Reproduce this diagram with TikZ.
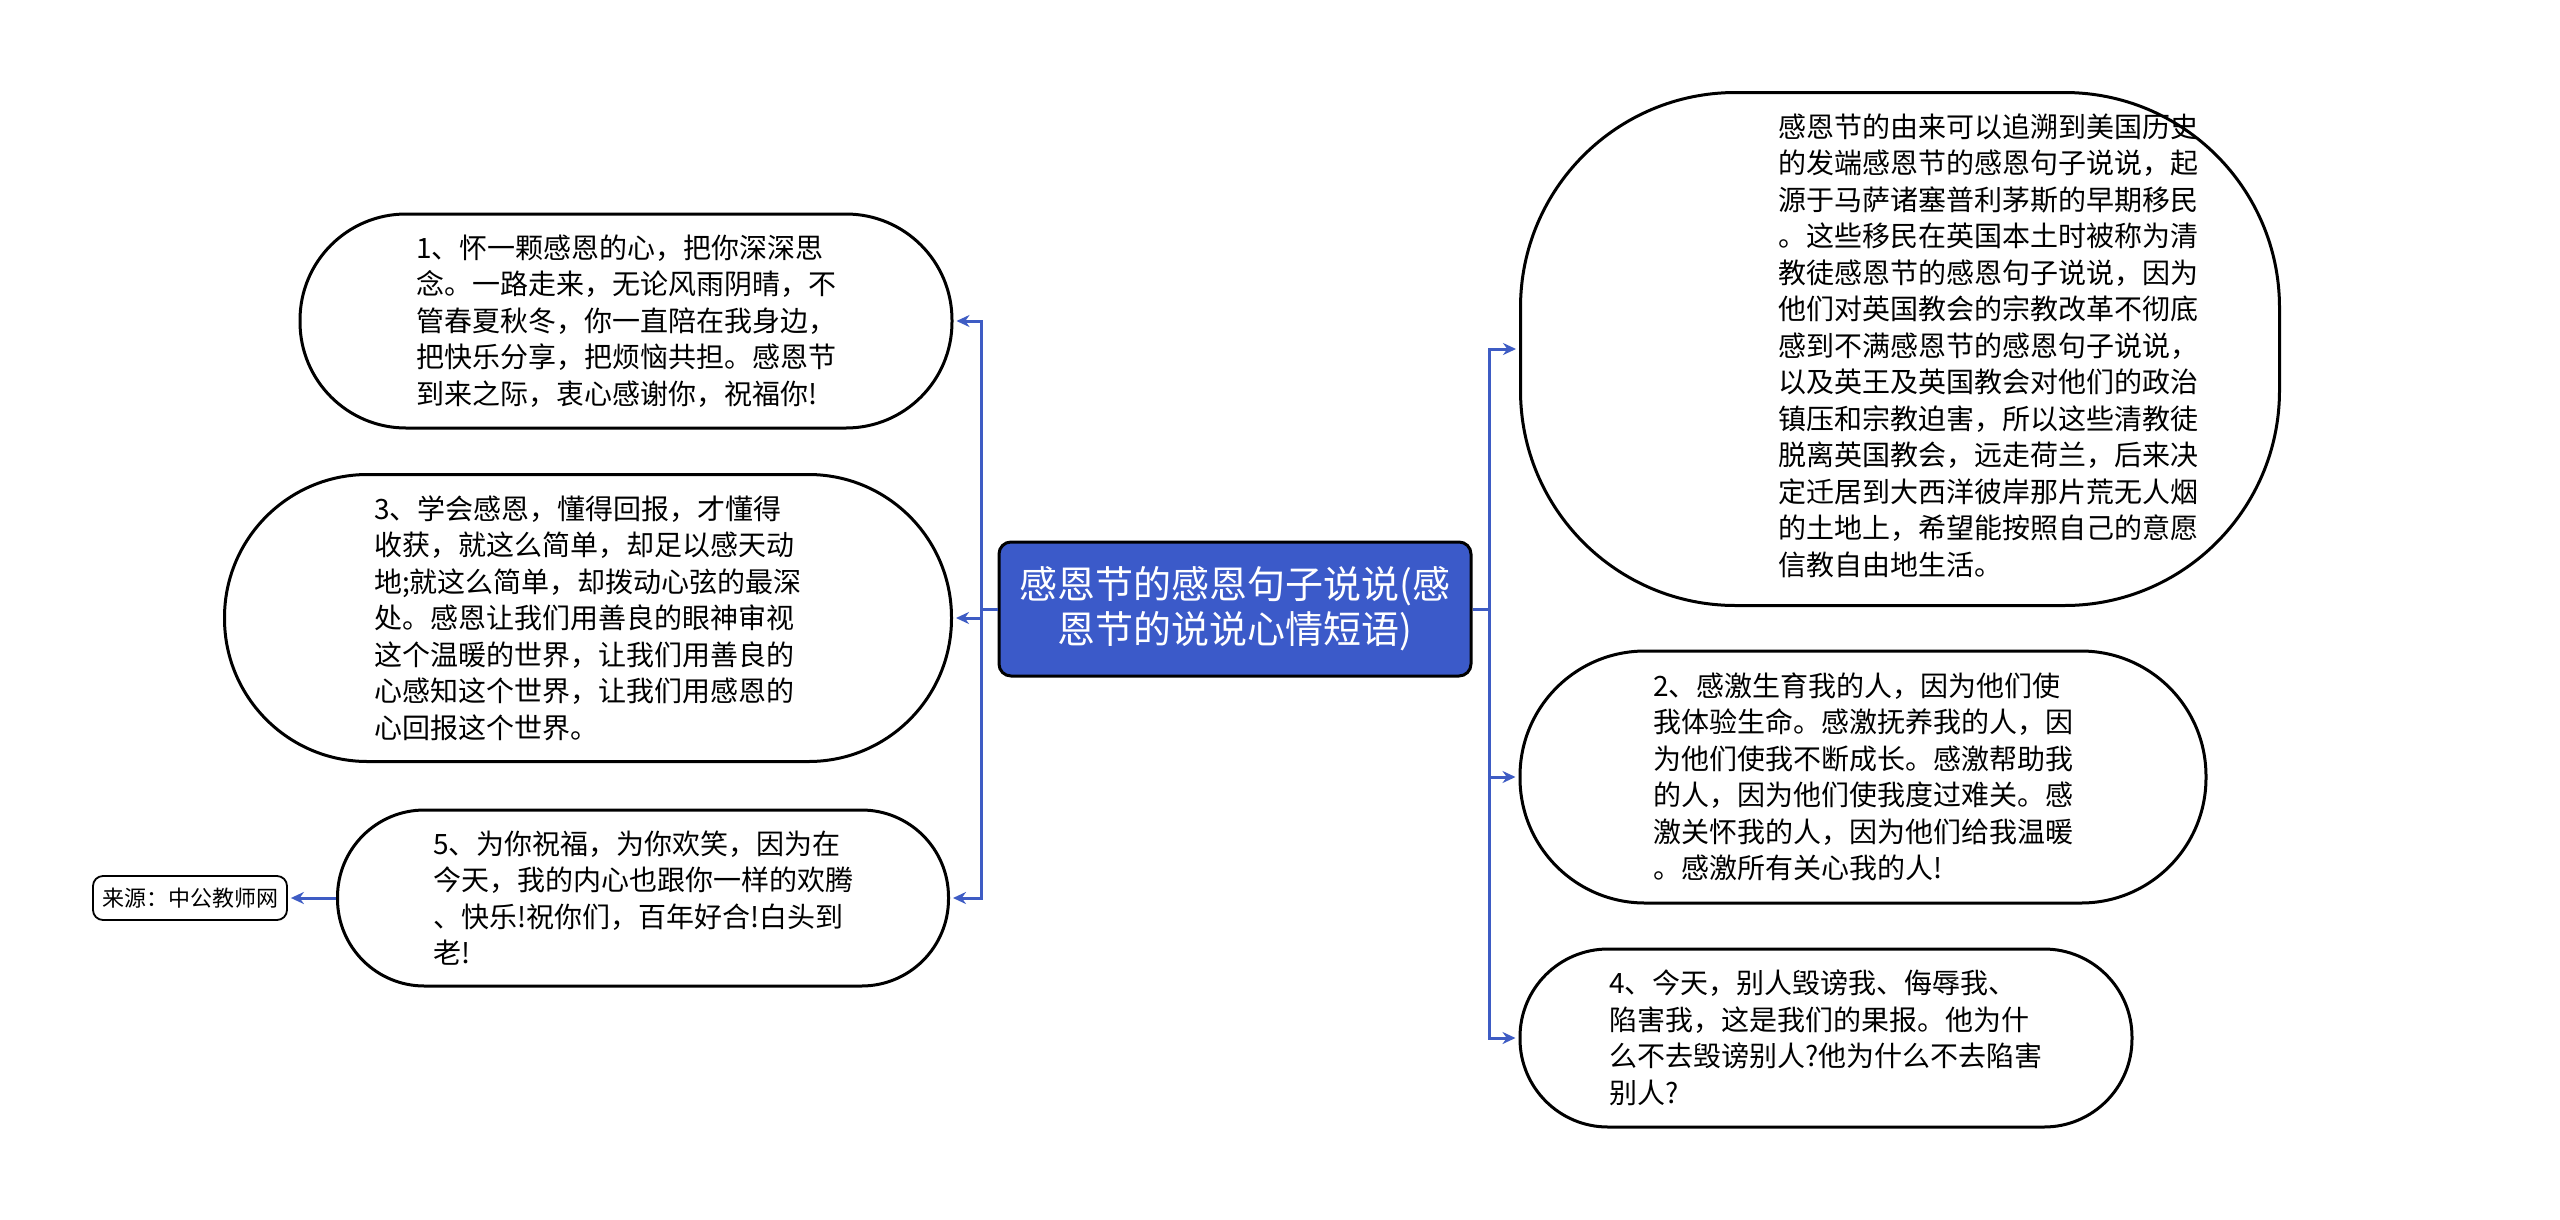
\documentclass[tikz,border=0pt]{standalone}
\usepackage{fontspec}
\setmainfont{Noto Sans CJK SC}
\usetikzlibrary{arrows.meta}
\definecolor{MAPblue}{RGB}{59, 90, 201}
\definecolor{LINKblue}{RGB}{62, 92, 196}

\begin{document}
\begin{tikzpicture}[x=1pt,y=-1pt,
    root/.style={draw=black, line width=3pt, fill=MAPblue, text=white, rounded corners=12pt,
        align=center, inner sep=0pt, font=\fontsize{38}{45}\selectfont},
    leaf/.style={draw=black, line width=3pt, fill=white, align=left, inner sep=0pt,
        font=\fontsize{28}{36.5}\selectfont},
    srcbox/.style={draw=black, line width=1.8pt, rounded corners=10pt, inner sep=0pt,
        font=\fontsize{22}{26}\selectfont},
    bus/.style={LINKblue, line width=3pt},
    link/.style={bus, shorten >=3pt, -{Stealth[length=13pt,width=12pt]}}]
    \useasboundingbox[fill=white] (0,0) rectangle (2560,1219);
    \node[root, minimum width=472pt, minimum height=134pt] (root) at (1235,609)
        {感恩节的感恩句子说说(感\\恩节的说说心情短语)};
    % left side
    \node[leaf, minimum width=652pt, minimum height=214pt, rounded corners=106pt] (n1) at (626,321)
        {1、怀一颗感恩的心，把你深深思\\念。一路走来，无论风雨阴晴，不\\管春夏秋冬，你一直陪在我身边，\\把快乐分享，把烦恼共担。感恩节\\到来之际，衷心感谢你，祝福你!};
    \node[leaf, minimum width=727pt, minimum height=287pt, rounded corners=143pt] (n3) at (588,618)
        {3、学会感恩，懂得回报，才懂得\\收获，就这么简单，却足以感天动\\地;就这么简单，却拨动心弦的最深\\处。感恩让我们用善良的眼神审视\\这个温暖的世界，让我们用善良的\\心感知这个世界，让我们用感恩的\\心回报这个世界。};
    \node[leaf, minimum width=611pt, minimum height=176pt, rounded corners=87pt] (n5) at (643,898)
        {5、为你祝福，为你欢笑，因为在\\今天，我的内心也跟你一样的欢腾\\、快乐!祝你们，百年好合!白头到\\老!};
    \node[srcbox, minimum width=194pt, minimum height=44pt] (src) at (190,898) {来源：中公教师网};
    % right side
    \node[leaf, minimum width=759pt, minimum height=513pt, rounded corners=215pt] (nA) at (1900,349)
        {\begin{tabular}{@{\hspace{176pt}}l@{}}感恩节的由来可以追溯到美国历史\\的发端感恩节的感恩句子说说，起\\源于马萨诸塞普利茅斯的早期移民\\。这些移民在英国本土时被称为清\\教徒感恩节的感恩句子说说，因为\\他们对英国教会的宗教改革不彻底\\感到不满感恩节的感恩句子说说，\\以及英王及英国教会对他们的政治\\镇压和宗教迫害，所以这些清教徒\\脱离英国教会，远走荷兰，后来决\\定迁居到大西洋彼岸那片荒无人烟\\的土地上，希望能按照自己的意愿\\信教自由地生活。\end{tabular}};
    \node[leaf, minimum width=686pt, minimum height=252pt, rounded corners=125pt] (n2) at (1863,777)
        {2、感激生育我的人，因为他们使\\我体验生命。感激抚养我的人，因\\为他们使我不断成长。感激帮助我\\的人，因为他们使我度过难关。感\\激关怀我的人，因为他们给我温暖\\。感激所有关心我的人!};
    \node[leaf, minimum width=612pt, minimum height=178pt, rounded corners=88pt] (n4) at (1826,1038)
        {4、今天，别人毁谤我、侮辱我、\\陷害我，这是我们的果报。他为什\\么不去毁谤别人?他为什么不去陷害\\别人?};
    \coordinate (lbus) at (981,609);
    \coordinate (rbus) at (1489,609);
    \draw[bus] (root.west) -- (lbus);
    \draw[bus] (root.east) -- (rbus);
    \foreach \n in {n1,n3,n5} {\draw[link] (lbus) |- (\n.east);}
    \foreach \n in {nA,n2,n4} {\draw[link] (rbus) |- (\n.west);}
    \draw[link] (n5.west) -- (src.east);
\end{tikzpicture}
\end{document}
